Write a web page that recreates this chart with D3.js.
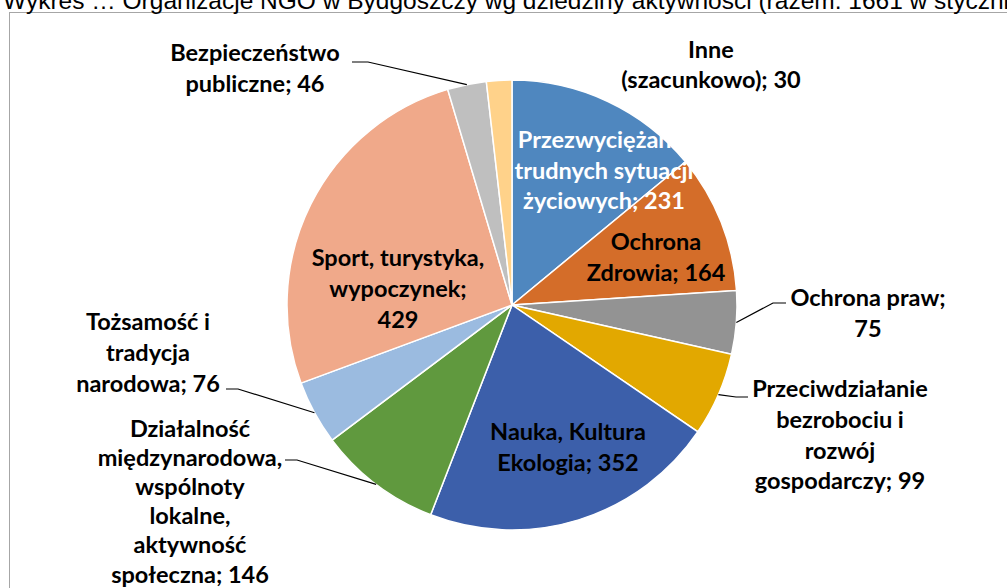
<!DOCTYPE html>
<html>
<head>
<meta charset="utf-8">
<script src="https://d3js.org/d3.v7.min.js"></script>
<style>
  body { margin: 0; background: #fff; }
  svg { display: block; }
</style>
</head>
<body>
<div id="chart"></div>
<script>
// data
const categories = [
  "Przezwyciężanie trudnych sytuacji życiowych",
  "Ochrona Zdrowia",
  "Ochrona praw",
  "Przeciwdziałanie bezrobociu i rozwój gospodarczy",
  "Nauka, Kultura Ekologia",
  "Działalność międzynarodowa, wspólnoty lokalne, aktywność społeczna",
  "Tożsamość i tradycja narodowa",
  "Sport, turystyka, wypoczynek",
  "Bezpieczeństwo publiczne",
  "Inne (szacunkowo)"
];
const values = [231, 164, 75, 99, 352, 146, 76, 429, 46, 30];
const colors = ["#4f87bf", "#d46d29", "#939393", "#e2a800", "#3c5faa",
                "#60993e", "#9bbbe0", "#f0a98a", "#bfbfbf", "#ffd28a"];

// label lines as they are broken in the picture
const labelLines = [
  ["Przezwyciężanie", "trudnych sytuacji", "życiowych; 231"],
  ["Ochrona", "Zdrowia; 164"],
  ["Ochrona praw;", "75"],
  ["Przeciwdziałanie", "bezrobociu i", "rozwój", "gospodarczy; 99"],
  ["Nauka, Kultura", "Ekologia; 352"],
  ["Działalność", "międzynarodowa,", "wspólnoty", "lokalne,", "aktywność", "społeczna; 146"],
  ["Tożsamość i", "tradycja", "narodowa; 76"],
  ["Sport, turystyka,", "wypoczynek;", "429"],
  ["Bezpieczeństwo", "publiczne; 46"],
  ["Inne", "(szacunkowo); 30"]
];
const title = "Wykres … Organizacje NGO w Bydgoszczy wg dziedziny aktywności (razem: 1661 w styczniu 2015 r.)";

// layout
const width = 1007, height = 588;
const cx = 512, cy = 305, radius = 225;

// label placement: centre x, centre y of first line, line step, text colour, leader elbow (or null)
const labelPos = [
  {x: 604, y: 140, lh: 30.5, fill: "#fff", elbow: null},
  {x: 656, y: 242, lh: 30.5, fill: "#000", elbow: null},
  {x: 868, y: 298, lh: 30.5, fill: "#000", elbow: [[773, 303], [786, 303]]},
  {x: 840, y: 389, lh: 30.8, fill: "#000", elbow: [[736, 397], [748, 397]]},
  {x: 568, y: 432, lh: 30.5, fill: "#000", elbow: null},
  {x: 190, y: 429, lh: 29.1, fill: "#000", elbow: [[297, 460], [285, 460]]},
  {x: 148, y: 322, lh: 31,   fill: "#000", elbow: [[238, 389], [226, 389]]},
  {x: 398, y: 258, lh: 31,   fill: "#000", elbow: null},
  {x: 255, y: 53,  lh: 31,   fill: "#000", elbow: [[368, 62], [352, 62]]},
  {x: 711, y: 50,  lh: 30,   fill: "#000", elbow: null}
];

const svg = d3.select("#chart").append("svg")
    .attr("width", width)
    .attr("height", height);

// chart frame (runs off the right and bottom edges)
svg.append("rect")
    .attr("x", 9.5).attr("y", 12.5)
    .attr("width", 1100).attr("height", 700)
    .attr("fill", "#fff")
    .attr("stroke", "#a6a6a6")
    .attr("stroke-width", 1);

// title, clipped at the top of the page as in the source
svg.append("text")
    .attr("x", 3).attr("y", 9)
    .attr("font-family", "Liberation Sans, Arial, sans-serif")
    .attr("font-size", 24.5)
    .attr("fill", "#000")
    .text(title);

const pie = d3.pie().sort(null).value(d => d)(values);
const arc = d3.arc().innerRadius(0).outerRadius(radius);

const g = svg.append("g").attr("transform", `translate(${cx},${cy})`);

g.selectAll("path.slice")
  .data(pie)
  .join("path")
    .attr("class", "slice")
    .attr("d", arc)
    .attr("fill", (d, i) => colors[i])
    .attr("stroke", "#fff")
    .attr("stroke-width", 1.5);

// leader lines
pie.forEach((d, i) => {
  const p = labelPos[i];
  if (!p.elbow) return;
  const a = (d.startAngle + d.endAngle) / 2;
  const edge = [cx + radius * Math.sin(a), cy - radius * Math.cos(a)];
  const pts = [edge, p.elbow[0], p.elbow[1]];
  svg.append("path")
      .attr("d", d3.line()(pts))
      .attr("fill", "none")
      .attr("stroke", "#000")
      .attr("stroke-width", 1.2);
});

// labels
labelLines.forEach((lines, i) => {
  const p = labelPos[i];
  const t = svg.append("text")
      .attr("text-anchor", "middle")
      .attr("font-family", "Lato, sans-serif")
      .attr("font-weight", "bold")
      .attr("font-size", 23.5)
      .attr("fill", p.fill);
  lines.forEach((ln, k) => {
    t.append("tspan")
      .attr("x", p.x)
      .attr("y", p.y + k * p.lh + 8)
      .text(ln);
  });
});
</script>
</body>
</html>
